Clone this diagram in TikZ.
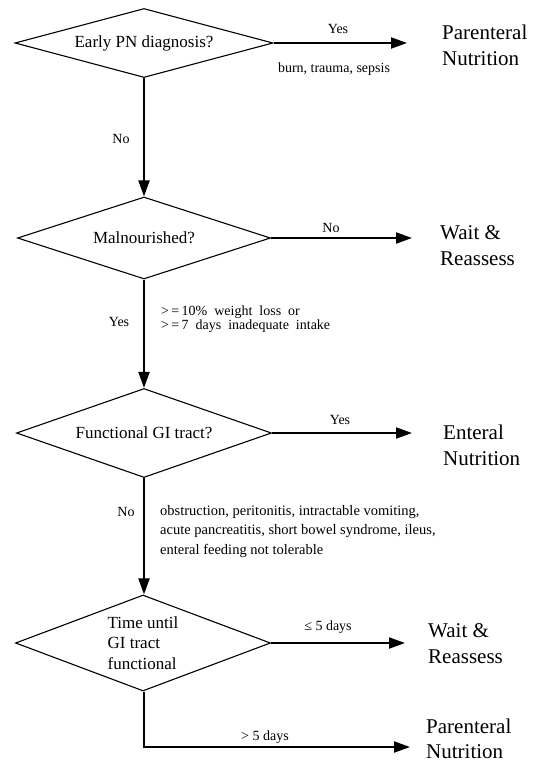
\documentclass[tikz,border=0pt]{standalone}
\usepackage{fontspec}
\setmainfont{Liberation Serif}
\usetikzlibrary{shapes.geometric,arrows.meta}
\begin{document}
\begin{tikzpicture}[x=1pt,y=-1pt,
  decision/.style={diamond, draw, line width=1.1pt, inner sep=0pt, aspect=3,
    font=\fontsize{17}{20.5}\selectfont, align=center},
  outcome/.style={anchor=west, inner sep=0pt, align=left,
    font=\fontsize{21}{26}\selectfont},
  lbl/.style={inner sep=0pt, font=\fontsize{14}{16}\selectfont},
  note/.style={inner sep=0pt, align=left, anchor=north west},
  arr/.style={line width=2pt, -{Triangle[length=16pt,width=11pt]}},
  ]
\useasboundingbox (0,0) rectangle (540,763);

% decisions
\node[decision, minimum width=258pt, minimum height=69pt] (d1) at (144,43) {Early PN diagnosis?};
\node[decision, minimum width=253pt, minimum height=82pt] (d2) at (144,238) {Malnourished?};
\node[decision, minimum width=255pt, minimum height=89pt] (d3) at (144,433) {Functional GI tract?};
\node[decision, aspect=2.5, align=left, minimum width=255pt, minimum height=96pt] (d4) at (143,643)
  {Time until\\GI tract\\functional};

% outcomes
\node[outcome] (o1) at (442,45.5) {Parenteral\\Nutrition};
\node[outcome] (o2) at (440,246) {Wait \&\\Reassess};
\node[outcome] (o3) at (443,445) {Enteral\\Nutrition};
\node[outcome] (o4) at (428,643.5) {Wait \&\\Reassess};
\node[outcome, font=\fontsize{21}{25}\selectfont] (o5) at (426,738.5) {Parenteral\\Nutrition};

% connectors
\draw[arr] (d1.south) -- (d2.north);
\draw[arr] (d2.south) -- (d3.north);
\draw[arr] (d3.south) -- (d3.south |- d4.north);
\draw[arr, shorten >=35pt] (d1.east) -- (d1.east -| o1.west);
\draw[arr, shorten >=28pt] (d2.east) -- (d2.east -| o2.west);
\draw[arr, shorten >=31pt] (d3.east) -- (d3.east -| o3.west);
\draw[arr, shorten >=23pt] (d4.east) -- (d4.east -| o4.west);
\coordinate (c5) at (144,747);
\draw[arr, shorten >=16pt] (d4.south -| c5) -- (c5) -- (c5 -| o5.west);

% labels
\node[lbl] (l1) at (338,29) {Yes};
\node[lbl] (l2) at (334,69) {burn, trauma, sepsis};
\node[lbl] (l3) at (121,139) {No};
\node[lbl] (l4) at (331,228) {No};
\node[lbl] (l5) at (119,322) {Yes};
\node[note, font=\fontsize{14}{14}\selectfont] (l6) at (161,306)
  {>\,=\,10\%\ \ weight\ \ loss\ \ or\\>\,=\,7\ \ days\ \ inadequate\ \ intake};
\node[lbl] (l7) at (340,420) {Yes};
\node[lbl] (l8) at (126,512) {No};
\node[note, font=\fontsize{14.5}{19.5}\selectfont] (l9) at (160,505)
  {obstruction, peritonitis, intractable vomiting,\\acute pancreatitis, short bowel syndrome, ileus,\\enteral feeding not tolerable};
\node[lbl] (l10) at (328,627) {≤ 5 days};
\node[lbl] (l11) at (265,737) {> 5 days};
\end{tikzpicture}
\end{document}
